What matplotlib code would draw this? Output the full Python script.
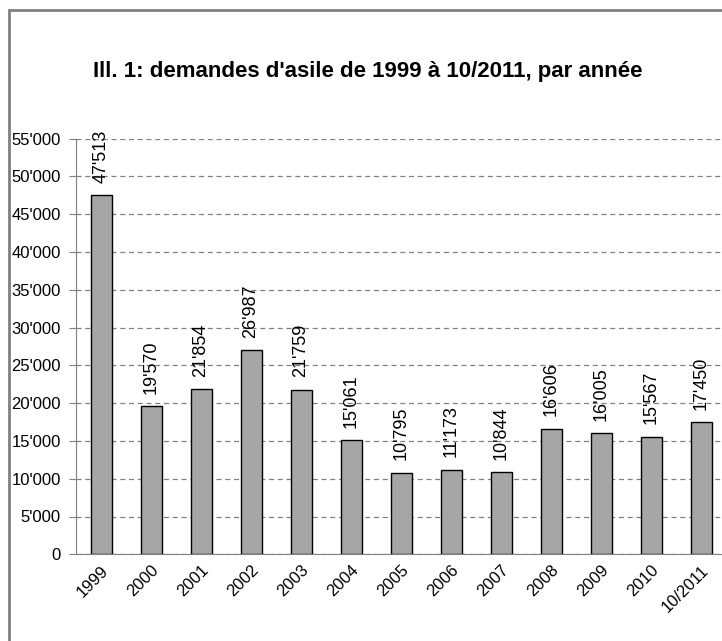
import matplotlib.pyplot as plt
from matplotlib.patches import Rectangle
from matplotlib.ticker import FuncFormatter

# Données : demandes d'asile par année
annees = ["1999", "2000", "2001", "2002", "2003", "2004", "2005",
          "2006", "2007", "2008", "2009", "2010", "10/2011"]
demandes = [47513, 19570, 21854, 26987, 21759, 15061, 10795,
            11173, 10844, 16606, 16005, 15567, 17450]

plt.rcParams['font.family'] = ['Liberation Sans', 'DejaVu Sans']


def fmt_milliers(v, pos=None):
    s = f"{int(round(v)):,}"
    return s.replace(",", "'")


fig = plt.figure(figsize=(7.22, 6.41), dpi=100)
ax = fig.add_axes([76 / 722, 86.7 / 641, 650 / 722, 415.8 / 641])

x = range(len(annees))
barres = ax.bar(x, demandes, width=0.42, color="#a6a6a6",
                edgecolor="black", linewidth=1.0, zorder=3)

# Étiquettes de valeur verticales au-dessus des barres
for xi, v in zip(x, demandes):
    ax.annotate(fmt_milliers(v), (xi, v), xytext=(0, 9), textcoords="offset points",
                rotation=90, ha="center", va="bottom", fontsize=13)

ax.set_xlim(-0.5, len(annees) - 0.5)
ax.set_ylim(0, 55000)
ax.set_yticks(range(0, 55001, 5000))
ax.yaxis.set_major_formatter(FuncFormatter(fmt_milliers))
ax.set_xticks(list(x))
ax.set_xticklabels(annees, rotation=45, ha="right", va="top",
                   rotation_mode="anchor", fontsize=12)
ax.tick_params(axis="x", length=0, pad=6)
ax.tick_params(axis="y", length=5, color="#808080", labelsize=12, pad=6)

ax.grid(axis="y", linestyle=(0, (4, 3)), color="#808080", linewidth=0.9, zorder=0)
for s in ["top", "right"]:
    ax.spines[s].set_visible(False)
ax.spines["left"].set_color("#808080")
ax.spines["bottom"].set_color("#808080")

fig.text(368 / 722, 1 - 71 / 641, "Ill. 1: demandes d'asile de 1999 à 10/2011, par année",
         ha="center", va="center", fontsize=16, fontweight="bold")

# Cadre du graphique
fig.add_artist(Rectangle((9 / 722, -0.1), 1.2, 1 - 10 / 641 + 0.1, transform=fig.transFigure,
                         fill=False, edgecolor="#808080", linewidth=2))

plt.savefig("out.png", dpi=100)
plt.close()
